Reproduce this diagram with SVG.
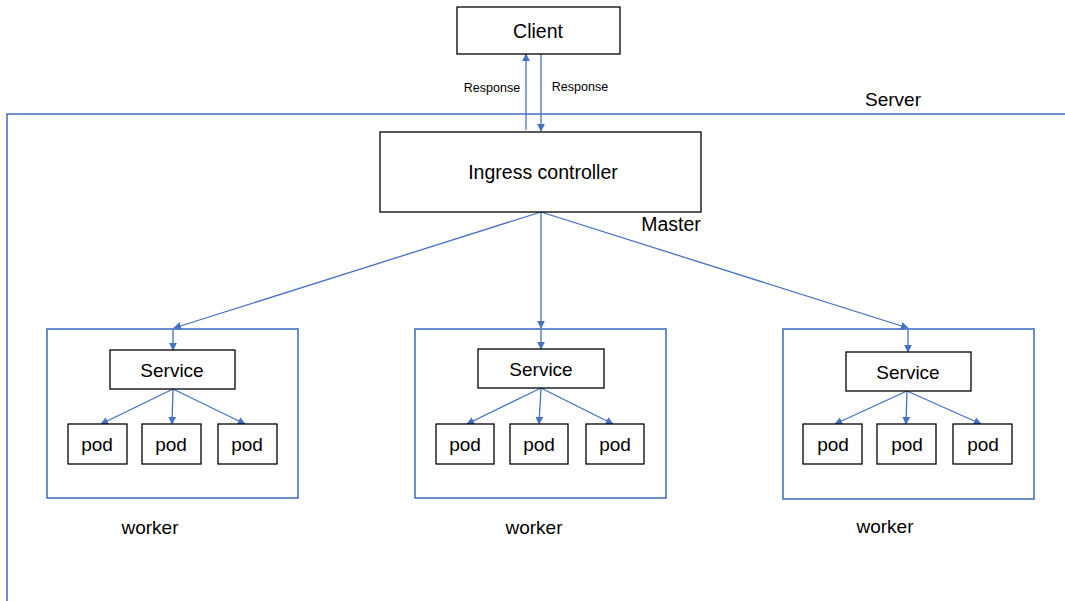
<svg xmlns="http://www.w3.org/2000/svg" width="1065" height="601" viewBox="0 0 1065 601">
  <defs>
    <marker id="arrow" viewBox="0 0 10 10" refX="9" refY="5" markerWidth="8" markerHeight="8" markerUnits="userSpaceOnUse" orient="auto">
      <path d="M0,0 L10,5 L0,10 z" fill="#4472C4"/>
    </marker>
    <style>
      .box { fill: #ffffff; stroke: #000000; stroke-width: 1.3; }
      .zone { fill: none; stroke: #4472C4; stroke-width: 1.6; }
      .link { fill: none; stroke: #4472C4; stroke-width: 1.3; marker-end: url(#arrow); }
      .lbl { font-family: "Liberation Sans", Arial, sans-serif; fill: #000000; text-anchor: middle; dominant-baseline: central; }
      .big { font-size: 19.5px; }
      .mid { font-size: 19px; }
      .small { font-size: 12.5px; }
    </style>
  </defs>

  <rect width="1065" height="601" fill="#ffffff"/>

  <!-- server boundary -->
  <g id="server">
    <path class="zone" d="M1065,114 L7,114 L7,601"/>
    <text class="lbl mid" x="893" y="99">Server</text>
  </g>

  <!-- connectors -->
  <g id="connectors">
    <line class="link" x1="526" y1="130" x2="526" y2="54"/>
    <line class="link" x1="541" y1="54" x2="541" y2="131"/>
    <line class="link" x1="541" y1="212" x2="174" y2="328"/>
    <line class="link" x1="541" y1="212" x2="541" y2="328"/>
    <line class="link" x1="541" y1="212" x2="908" y2="328"/>
    <line class="link" x1="173" y1="329" x2="173" y2="350"/>
    <line class="link" x1="541" y1="329" x2="541" y2="349"/>
    <line class="link" x1="908" y1="329" x2="908" y2="352"/>
    <line class="link" x1="173" y1="389" x2="101" y2="424"/>
    <line class="link" x1="173" y1="389" x2="172" y2="424"/>
    <line class="link" x1="173" y1="389" x2="245" y2="424"/>
    <line class="link" x1="541" y1="388" x2="467" y2="424"/>
    <line class="link" x1="541" y1="388" x2="539" y2="424"/>
    <line class="link" x1="541" y1="388" x2="613" y2="424"/>
    <line class="link" x1="907" y1="391" x2="835" y2="424"/>
    <line class="link" x1="907" y1="391" x2="906" y2="424"/>
    <line class="link" x1="907" y1="391" x2="981" y2="424"/>
    <text class="lbl small" x="492" y="88">Response</text>
    <text class="lbl small" x="580" y="87">Response</text>
  </g>

  <g id="client">
    <rect class="box" x="457" y="7" width="163" height="47"/>
    <text class="lbl big" x="538" y="31">Client</text>
  </g>

  <g id="ingress">
    <rect class="box" x="380" y="132" width="321" height="80"/>
    <text class="lbl big" x="543" y="172">Ingress controller</text>
    <text class="lbl big" x="671" y="224">Master</text>
  </g>

  <!-- worker 1 -->
  <g id="worker1">
    <rect class="zone" x="47" y="329" width="251" height="169"/>
    <text class="lbl mid" x="150" y="527">worker</text>
  </g>
  <g id="service1">
    <rect class="box" x="110" y="350" width="125" height="39"/>
    <text class="lbl mid" x="172" y="370">Service</text>
  </g>
  <g id="pod1a"><rect class="box" x="68" y="424" width="59" height="40"/><text class="lbl mid" x="97" y="444">pod</text></g>
  <g id="pod1b"><rect class="box" x="142" y="424" width="59" height="40"/><text class="lbl mid" x="171" y="444">pod</text></g>
  <g id="pod1c"><rect class="box" x="218" y="424" width="59" height="40"/><text class="lbl mid" x="247" y="444">pod</text></g>

  <!-- worker 2 -->
  <g id="worker2">
    <rect class="zone" x="415" y="329" width="251" height="169"/>
    <text class="lbl mid" x="534" y="527">worker</text>
  </g>
  <g id="service2">
    <rect class="box" x="478" y="349" width="126" height="39"/>
    <text class="lbl mid" x="541" y="369">Service</text>
  </g>
  <g id="pod2a"><rect class="box" x="436" y="424" width="58" height="40"/><text class="lbl mid" x="465" y="444">pod</text></g>
  <g id="pod2b"><rect class="box" x="510" y="424" width="58" height="40"/><text class="lbl mid" x="539" y="444">pod</text></g>
  <g id="pod2c"><rect class="box" x="586" y="424" width="58" height="40"/><text class="lbl mid" x="615" y="444">pod</text></g>

  <!-- worker 3 -->
  <g id="worker3">
    <rect class="zone" x="783" y="329" width="251" height="170"/>
    <text class="lbl mid" x="885" y="526">worker</text>
  </g>
  <g id="service3">
    <rect class="box" x="846" y="352" width="125" height="39"/>
    <text class="lbl mid" x="908" y="372">Service</text>
  </g>
  <g id="pod3a"><rect class="box" x="803" y="424" width="59" height="40"/><text class="lbl mid" x="833" y="444">pod</text></g>
  <g id="pod3b"><rect class="box" x="877" y="424" width="59" height="40"/><text class="lbl mid" x="907" y="444">pod</text></g>
  <g id="pod3c"><rect class="box" x="953" y="424" width="59" height="40"/><text class="lbl mid" x="983" y="444">pod</text></g>
</svg>
